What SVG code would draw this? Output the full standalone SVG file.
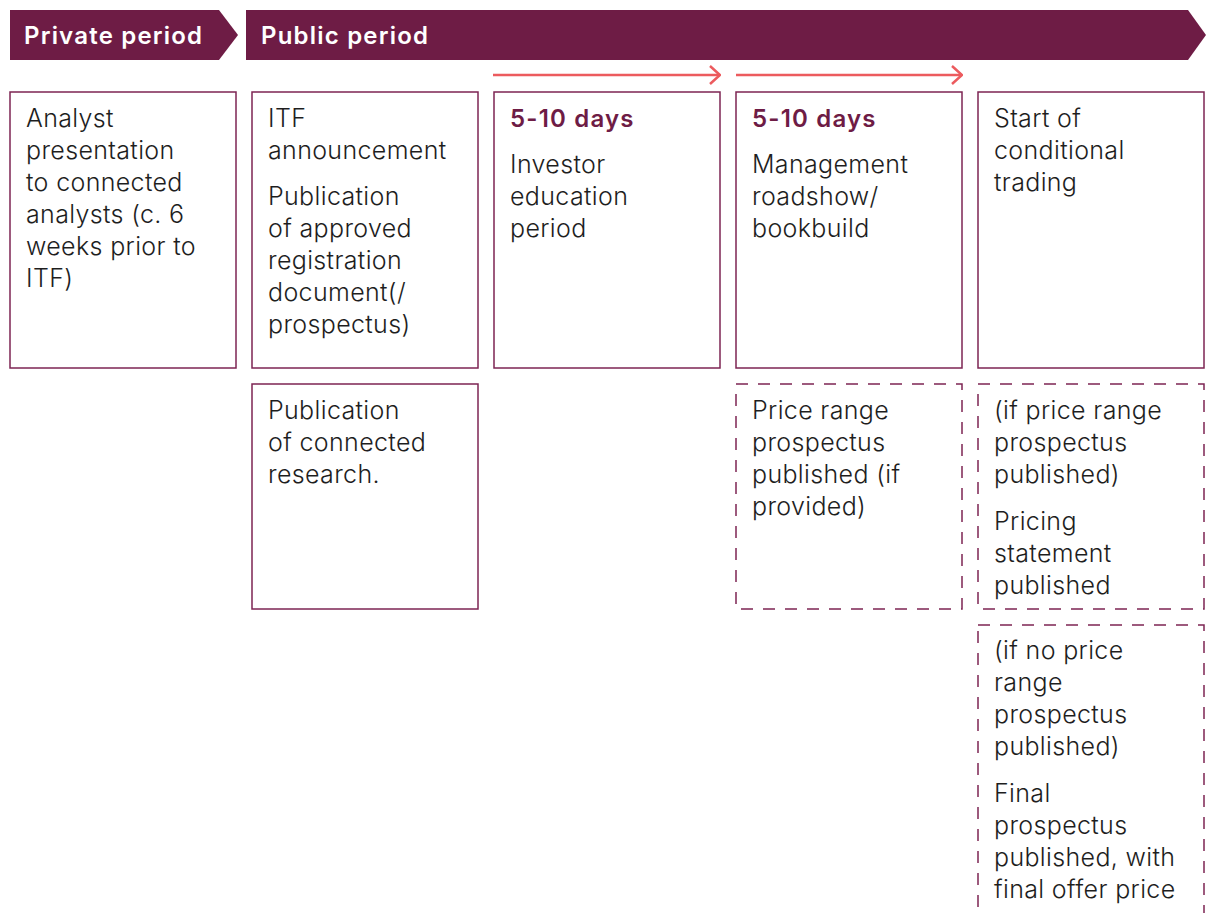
<svg xmlns="http://www.w3.org/2000/svg" width="1206" height="913" viewBox="0 0 1206 913">
  <style>
    .band { fill: #6e1c45; }
    .band-label { font-family: Inter, "Open Sans", "Liberation Sans", sans-serif; font-weight: 600; font-size: 24px; letter-spacing: 1.2px; fill: #ffffff; }
    .box { fill: #ffffff; stroke: #7d2553; stroke-width: 1.5; }
    .box-dash { fill: #ffffff; stroke: #7d2553; stroke-width: 1.5; stroke-dasharray: 12 10; }
    .txt { font-family: Inter, "Open Sans", "Liberation Sans", sans-serif; font-weight: 300; font-size: 25px; letter-spacing: 0.35px; fill: #1e1e1e; }
    .dur { font-family: Inter, "Open Sans", "Liberation Sans", sans-serif; font-weight: 600; font-size: 24px; letter-spacing: 1.2px; fill: #6e1c45; }
    .span { stroke: #ec5b5e; stroke-width: 2.5; fill: none; }
  </style>
  <defs>
    <marker id="chev" viewBox="0 0 12 20" refX="11" refY="10" markerWidth="12" markerHeight="20" markerUnits="userSpaceOnUse" orient="auto">
      <path d="M1,1 L11,10 L1,19" fill="none" stroke="#ec5b5e" stroke-width="2.5"/>
    </marker>
  </defs>

  <!-- period bands -->
  <g id="private-period">
    <polygon class="band" points="10,10 219,10 238,35 219,60 10,60"/>
    <text class="band-label" x="24" y="44">Private period</text>
  </g>
  <g id="public-period">
    <polygon class="band" points="246,10 1188,10 1206,35 1188,60 246,60"/>
    <text class="band-label" x="261" y="44">Public period</text>
  </g>

  <!-- duration spans -->
  <g id="connectors">
    <line class="span" x1="493" y1="75" x2="720" y2="75" marker-end="url(#chev)"/>
    <line class="span" x1="736" y1="75" x2="962" y2="75" marker-end="url(#chev)"/>
  </g>

  <!-- first row -->
  <g id="analyst-presentation">
    <rect class="box" x="10" y="92" width="226" height="276"/>
    <text class="txt">
      <tspan x="26" y="127">Analyst</tspan>
      <tspan x="26" y="159">presentation</tspan>
      <tspan x="26" y="191">to connected</tspan>
      <tspan x="26" y="223">analysts (c. 6</tspan>
      <tspan x="26" y="255">weeks prior to</tspan>
      <tspan x="26" y="287">ITF)</tspan>
    </text>
  </g>
  <g id="itf-announcement">
    <rect class="box" x="252" y="92" width="226" height="276"/>
    <text class="txt">
      <tspan x="268" y="127">ITF</tspan>
      <tspan x="268" y="159">announcement</tspan>
      <tspan x="268" y="205">Publication</tspan>
      <tspan x="268" y="237">of approved</tspan>
      <tspan x="268" y="269">registration</tspan>
      <tspan x="268" y="301">document(/</tspan>
      <tspan x="268" y="333">prospectus)</tspan>
    </text>
  </g>
  <g id="investor-education">
    <rect class="box" x="494" y="92" width="226" height="276"/>
    <text class="dur" x="510" y="127">5-10 days</text>
    <text class="txt">
      <tspan x="510" y="173">Investor</tspan>
      <tspan x="510" y="205">education</tspan>
      <tspan x="510" y="237">period</tspan>
    </text>
  </g>
  <g id="roadshow-bookbuild">
    <rect class="box" x="736" y="92" width="226" height="276"/>
    <text class="dur" x="752" y="127">5-10 days</text>
    <text class="txt">
      <tspan x="752" y="173">Management</tspan>
      <tspan x="752" y="205">roadshow/</tspan>
      <tspan x="752" y="237">bookbuild</tspan>
    </text>
  </g>
  <g id="conditional-trading">
    <rect class="box" x="978" y="92" width="226" height="276"/>
    <text class="txt">
      <tspan x="994" y="127">Start of</tspan>
      <tspan x="994" y="159">conditional</tspan>
      <tspan x="994" y="191">trading</tspan>
    </text>
  </g>

  <!-- second row -->
  <g id="connected-research">
    <rect class="box" x="252" y="384" width="226" height="225"/>
    <text class="txt">
      <tspan x="268" y="419">Publication</tspan>
      <tspan x="268" y="451">of connected</tspan>
      <tspan x="268" y="483">research.</tspan>
    </text>
  </g>
  <g id="price-range-prospectus">
    <rect class="box-dash" x="736" y="384" width="226" height="225"/>
    <text class="txt">
      <tspan x="752" y="419">Price range</tspan>
      <tspan x="752" y="451">prospectus</tspan>
      <tspan x="752" y="483">published (if</tspan>
      <tspan x="752" y="515">provided)</tspan>
    </text>
  </g>
  <g id="pricing-statement">
    <rect class="box-dash" x="978" y="384" width="226" height="225"/>
    <text class="txt">
      <tspan x="994" y="419">(if price range</tspan>
      <tspan x="994" y="451">prospectus</tspan>
      <tspan x="994" y="483">published)</tspan>
      <tspan x="994" y="530">Pricing</tspan>
      <tspan x="994" y="562">statement</tspan>
      <tspan x="994" y="594">published</tspan>
    </text>
  </g>

  <!-- third row -->
  <g id="final-prospectus">
    <rect class="box-dash" x="978" y="625" width="226" height="300"/>
    <text class="txt">
      <tspan x="994" y="659">(if no price</tspan>
      <tspan x="994" y="691">range</tspan>
      <tspan x="994" y="723">prospectus</tspan>
      <tspan x="994" y="755">published)</tspan>
      <tspan x="994" y="802">Final</tspan>
      <tspan x="994" y="834">prospectus</tspan>
      <tspan x="994" y="866">published, with</tspan>
      <tspan x="994" y="898">final offer price</tspan>
    </text>
  </g>
</svg>
